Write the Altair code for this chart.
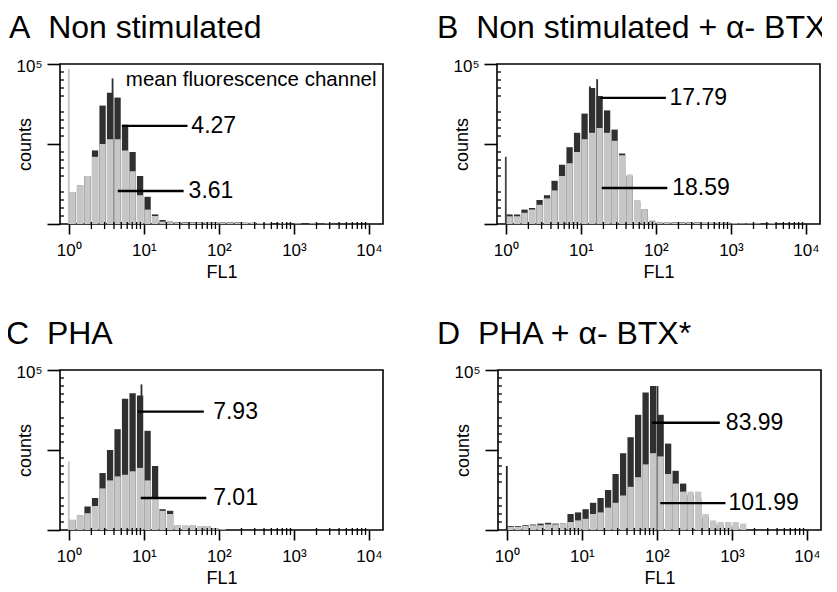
import altair as alt
import pandas as pd

FONT = "Liberation Sans"
DARK = "#303030"
LIGHT = "#c6c6c6"

# FL1 channels: 10 histogram bins per decade, 10^0 .. 10^4 (bin centres)
fl1_channel = [round(10 ** ((i + 0.5) / 10), 4) for i in range(40)]

# ---- counts (full scale = 100) ----
a_dark = [20, 24, 30, 46, 74, 82, 79, 62, 45, 30, 17, 6, 2.5, 1.5, 1.2, 1.2, 1.2, 1, 1, 1,
          1, 1, 1, 0.8, 0.8, 0.6, 0.6, 0.5, 0.5, 0, 0, 0.4, 0, 0, 0.4, 0, 0, 0, 0, 0]
a_light = [20, 24, 30, 42, 50, 53, 53, 46, 33, 18, 9, 5, 1.5, 1.2, 1, 1, 1, 1, 1, 1,
           0.8, 0.8, 0.8, 0.8, 0.6, 0.6, 0.5, 0, 0.5, 0, 0.4, 0, 0.4, 0, 0.3, 0, 0, 0, 0, 0]
b_dark = [6, 6, 9, 10, 15, 18, 27, 37, 48, 57, 69, 85, 80, 71, 59, 44, 30, 14, 9, 2,
          1, 1, 1, 1, 1, 1, 0.8, 0.8, 0.8, 0.8, 0.6, 0.6, 0.5, 0.5, 0.4, 0, 0.4, 0, 0, 0]
b_light = [4.8, 4.8, 7, 9, 12, 16, 21, 30, 38, 45, 53, 57, 60, 57, 52, 43, 31, 15, 9, 1.7,
           1, 1, 0.8, 0.8, 0.8, 0.8, 0.6, 0.6, 0.6, 0.5, 0.5, 0.4, 0.4, 0.4, 0, 0.4, 0, 0, 0, 0]
c_dark = [6.3, 9, 14.7, 20, 35.6, 50, 63, 82, 85.5, 84, 62, 40, 13, 12, 2.7, 2.7, 2.7, 2.5, 2.5, 1,
          0.5, 0, 0, 0, 0, 0, 0, 0, 0, 0, 0, 0, 0, 0, 0, 0.5, 0, 0.5, 0.5, 0]
c_light = [6.3, 9, 10.5, 15, 26, 31, 33.5, 34.6, 36.7, 38.8, 31, 20, 12, 10, 2.7, 2.7, 2.7, 2.5, 2.5, 1,
           0.5, 0, 0, 0, 0, 0, 0, 0, 0, 0, 0, 0, 0, 0, 0, 0, 0, 0, 0, 0]
d_dark = [2.5, 2.5, 3, 3.5, 4, 4.5, 4, 4, 10, 11, 13, 17, 20, 25, 35, 48, 58, 72, 86, 90,
          72, 54, 37, 29, 22, 20, 8, 4, 3, 3, 2, 1, 0, 0, 0, 0, 0, 0, 0, 0]
d_light = [2, 2, 2.5, 3, 3, 3.5, 3.5, 4, 5, 6, 7, 10, 11, 14, 17, 21.5, 27, 33, 41, 48,
           46, 35, 29, 24, 24, 24, 10, 6, 5, 5, 5, 4, 0, 0, 0, 0, 0, 0, 0, 0]

# channel-0 pile-up spike at 10^0 (height, colour)
spike_height = [97, 42, 43, 40]
spike_color = [LIGHT, "#444444", LIGHT, "#222222"]

# narrow peak spikes of the dark histogram (FL1 position, height)
peak_fl1 = [[3.83], [16.5, 13.2], [9.3], [85, 102]]
peak_h = [[91], [90.5, 86], [91], [89, 90]]

titles = ["A\u00a0 Non stimulated", "B\u00a0 Non stimulated + \u03b1- BTX*",
          "C\u00a0 PHA", "D\u00a0 PHA + \u03b1- BTX*"]
title_dx = [-51, -60, -54, -61]

# mean fluorescence channel annotations: (x start, x end, y, label x, label)
ann = [
    [(5.1, 38.2, 61.3, 43.0, "4.27"), (4.5, 33.9, 20.6, 39.5, "3.61")],
    [(18.2, 136, 78.8, 152, "17.79"), (19.0, 142, 22.5, 165, "18.59")],
    [(8.3, 63, 74, 84, "7.93"), (9.1, 68, 20, 84, "7.01")],
    [(86, 690, 67, 830, "83.99"), (111, 820, 16.8, 900, "101.99")],
]

x_major = [1, 10, 100, 1000, 10000]
x_major_labels = ["10\u2070", "10\u00b9", "10\u00b2", "10\u00b3", "10\u2074"]
x_minor = [m * k for m in [1, 10, 100, 1000] for k in range(2, 10)]
y_major = [0, 25, 50, 75, 100]
y_minor = [v for v in range(5, 100, 5) if v % 25 != 0]

x_label_expr = " : ".join(f"datum.value == {v} ? '{l}'" for v, l in zip(x_major, x_major_labels)) + " : ''"

W, H = 323, 160

x_scale = alt.Scale(type="log", domain=[0.89, 13200], nice=False)
y_scale = alt.Scale(domain=[0, 100], nice=False, zero=True)

x_axis = alt.Axis(
    values=x_major, labelExpr=x_label_expr, labelOverlap=False, labelFlush=False,
    tickSize=10, tickWidth=1.6, tickColor="black", domain=False, grid=False,
    labelFont=FONT, labelFontSize=17, labelColor="black", labelPadding=8,
    titleFont=FONT, titleFontSize=18, titleFontWeight="normal", titleColor="black", titlePadding=5,
)
y_axis = alt.Axis(
    values=y_major, labelExpr="datum.value == 100 ? '10\u2075' : ''", labelOverlap=False, labelFlush=False,
    tickSize=13, tickWidth=1.6, tickColor="black", domain=False, grid=False,
    labelFont=FONT, labelFontSize=17, labelColor="black", labelPadding=5, labelBaseline="middle",
    labelOffset=2,
    titleFont=FONT, titleFontSize=18, titleFontWeight="normal", titleColor="black",
    titleX=-35, titleBaseline="middle",
)


def panel(i, dark, light):
    df = pd.DataFrame({"fl1": fl1_channel, "dark": dark, "light": light})
    base = alt.Chart(df)
    xenc = alt.X("fl1:Q", scale=x_scale, axis=x_axis, title="FL1")
    dark_bars = base.mark_bar(width=6.3, color=DARK).encode(
        x=xenc, y=alt.Y("dark:Q", scale=y_scale, axis=y_axis, title="counts"))
    light_bars = base.mark_bar(width=6.3, color=LIGHT).encode(x="fl1:Q", y="light:Q")

    pk = pd.DataFrame({"fl1": peak_fl1[i], "h": peak_h[i]})
    peaks = alt.Chart(pk).mark_bar(width=1.8, color=DARK).encode(x="fl1:Q", y="h:Q")

    sp = pd.DataFrame({"fl1": [1.0], "h": [spike_height[i]]})
    spike = alt.Chart(sp).mark_bar(width=1.8, color=spike_color[i]).encode(x="fl1:Q", y="h:Q")

    xm = pd.DataFrame({"v": x_minor})
    xminor = alt.Chart(xm).mark_rule(color="black", strokeWidth=1.3).encode(
        x="v:Q", y=alt.value(H - 2), y2=alt.value(H + 5))
    ym = pd.DataFrame({"v": y_minor})
    yminor = alt.Chart(ym).mark_rule(color="black", strokeWidth=1.3).encode(
        y="v:Q", x=alt.value(0), x2=alt.value(4))

    adf = pd.DataFrame(ann[i], columns=["x1", "x2", "y", "lx", "label"])
    lines = alt.Chart(adf).mark_rule(color="black", strokeWidth=2.4).encode(
        x="x1:Q", x2="x2:Q", y="y:Q")
    labels = alt.Chart(adf).mark_text(font=FONT, fontSize=23, align="left", baseline="middle",
                                      color="black").encode(x="lx:Q", y="y:Q", text="label:N")
    layers = [dark_bars, peaks, light_bars, spike, xminor, yminor, lines, labels]
    if i == 0:
        mdf = pd.DataFrame({"x": [5.75], "y": [90], "t": ["mean fluorescence channel"]})
        layers.append(alt.Chart(mdf).mark_text(font=FONT, fontSize=20.5, align="left", baseline="middle",
                                               color="black").encode(x="x:Q", y="y:Q", text="t:N"))
    return alt.layer(*layers).properties(
        width=W, height=H,
        title=alt.TitleParams(titles[i], anchor="start", frame="group", dx=title_dx[i],
                              font=FONT, fontSize=32, fontWeight="normal", color="black", offset=12),
    )


pa = panel(0, a_dark, a_light)
pb = panel(1, b_dark, b_light)
pc = panel(2, c_dark, c_light)
pd_ = panel(3, d_dark, d_light)

chart = alt.vconcat(
    alt.hconcat(pa, pb, spacing=52),
    alt.hconcat(pc, pd_, spacing=52),
    spacing=35,
).properties(
    padding={"left": -3, "top": 3, "right": -18, "bottom": 0},
    background="white",
).configure_view(stroke="black", strokeWidth=1.6)

chart.save("out.html", embed_options={"renderer": "svg", "actions": False})
